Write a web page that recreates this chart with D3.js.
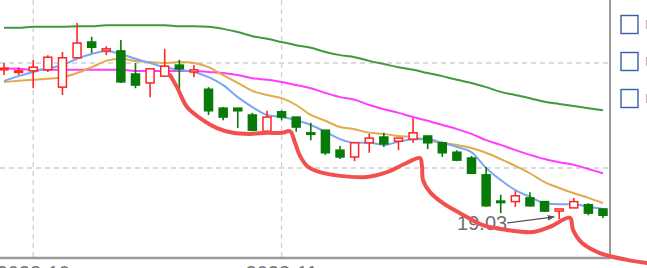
<html>
<head>
<style>
  body { margin: 0; background: #fff; }
  svg { display: block; font-family: "Liberation Sans", Arial, sans-serif; }
</style>
</head>
<body>
<svg id="chart" width="647" height="268"></svg>

<script src="https://cdn.jsdelivr.net/npm/d3@7"></script>
<script>
// daily candles, left to right
let open  = [21.87, 21.83, 21.85, 21.87, 21.54, 22.10, 22.40, 22.23, 22.23, 21.79, 21.62, 21.75, 21.96, 21.83, 21.50, 21.14, 21.14, 21.01, 20.70, 21.07, 20.97, 20.67, 20.72, 20.34, 20.21, 20.48, 20.59, 20.51, 20.55, 20.61, 20.48, 20.30, 20.19, 19.87, 19.37, 19.36, 19.43, 19.36, 19.18, 19.24, 19.30, 19.22]
let high  = [22.00, 21.92, 22.06, 22.15, 22.21, 22.76, 22.50, 22.32, 22.44, 22.00, 21.89, 22.27, 22.06, 21.96, 21.54, 21.16, 21.14, 21.05, 21.09, 21.10, 20.97, 20.86, 20.72, 20.42, 20.48, 20.65, 20.67, 20.57, 20.95, 20.61, 20.50, 20.34, 20.23, 20.02, 19.49, 19.56, 19.54, 19.36, 19.22, 19.43, 19.33, 19.22]
let low   = [21.77, 21.77, 21.52, 21.83, 21.39, 22.10, 22.19, 22.15, 21.62, 21.52, 21.35, 21.75, 21.49, 21.73, 21.01, 20.91, 20.76, 20.70, 20.70, 20.91, 20.69, 20.53, 20.25, 20.17, 20.13, 20.29, 20.40, 20.34, 20.48, 20.36, 20.21, 20.13, 19.90, 19.26, 19.14, 19.26, 19.26, 19.16, 19.03, 19.24, 19.10, 19.05]
let close = [21.90, 21.85, 21.92, 22.11, 22.10, 22.38, 22.30, 22.27, 21.64, 21.58, 21.89, 21.94, 21.89, 21.87, 21.09, 20.97, 21.09, 20.72, 20.97, 20.97, 20.78, 20.65, 20.29, 20.21, 20.48, 20.57, 20.46, 20.57, 20.67, 20.48, 20.29, 20.15, 19.90, 19.28, 19.35, 19.47, 19.28, 19.18, 19.22, 19.36, 19.14, 19.10]

// moving averages as they appear on the chart
let ma5  = [21.66, 21.75, 21.83, 21.90, 21.96, 22.08, 22.17, 22.23, 22.17, 22.08, 22.00, 21.92, 21.87, 21.83, 21.73, 21.58, 21.35, 21.16, 21.01, 20.97, 20.91, 20.82, 20.69, 20.55, 20.48, 20.48, 20.44, 20.50, 20.55, 20.55, 20.48, 20.40, 20.30, 20.00, 19.77, 19.58, 19.45, 19.33, 19.31, 19.31, 19.26, 19.22]
let ma10 = [21.64, 21.66, 21.68, 21.70, 21.73, 21.81, 21.92, 22.04, 22.08, 22.04, 22.02, 22.00, 22.02, 22.00, 21.92, 21.77, 21.62, 21.47, 21.39, 21.33, 21.20, 21.01, 20.90, 20.78, 20.74, 20.67, 20.65, 20.61, 20.59, 20.53, 20.48, 20.44, 20.38, 20.29, 20.17, 20.04, 19.90, 19.73, 19.62, 19.52, 19.43, 19.33]
let ma20 = [21.90, 21.89, 21.87, 21.87, 21.87, 21.87, 21.87, 21.87, 21.87, 21.85, 21.85, 21.85, 21.85, 21.85, 21.83, 21.81, 21.77, 21.71, 21.68, 21.64, 21.58, 21.52, 21.43, 21.35, 21.30, 21.20, 21.12, 21.05, 20.97, 20.90, 20.82, 20.74, 20.65, 20.53, 20.44, 20.34, 20.25, 20.17, 20.11, 20.06, 19.98, 19.90]
let ma60 = [22.67, 22.67, 22.69, 22.69, 22.69, 22.70, 22.70, 22.72, 22.72, 22.72, 22.72, 22.72, 22.70, 22.70, 22.69, 22.65, 22.59, 22.51, 22.46, 22.40, 22.34, 22.29, 22.21, 22.15, 22.11, 22.04, 21.98, 21.92, 21.87, 21.81, 21.75, 21.68, 21.62, 21.54, 21.45, 21.39, 21.33, 21.26, 21.22, 21.18, 21.14, 21.10]

let monthTickIdx = [2, 19]
let monthTickLabels = ["2023-10", "2023-11"]
let priceTicks = [18, 20, 22, 24]
let legendLabels = ["MA5", "MA10", "MA20"]

// hand drawn red stroke, as [candle index, price]
let scribble = [[11.36, 21.77], [11.84, 21.54], [12.53, 21.16], [13.42, 20.95], [14.58, 20.76], [15.67, 20.67], [16.84, 20.65], [18.0, 20.67], [19.03, 20.67], [19.58, 20.70], [19.92, 20.48], [20.26, 20.23], [20.74, 20.04], [21.63, 19.92], [23.0, 19.85], [24.85, 19.83], [26.21, 19.92], [27.58, 20.10], [28.47, 20.19], [28.61, 20.02], [28.68, 19.77], [29.16, 19.54], [30.05, 19.33], [31.21, 19.14], [32.79, 18.91], [34.43, 18.82], [36.21, 18.78], [37.37, 18.88], [38.74, 19.05], [38.95, 18.82], [39.57, 18.57], [40.79, 18.38], [42.64, 18.25], [44.01, 18.19]]

let svg = d3.select("#chart")
let plotRight = 610
let plotBottom = 258

let x = d3.scaleLinear().domain([-0.5, 41.5]).range([-3.3, 610.3])
let y = d3.scaleLinear().domain([20, 22]).range([168, 63])

let candles = open.map((o, i) => ({ i: i, o: o, h: high[i], l: low[i], c: close[i] }))

// grid
let grid = svg.append("g")
grid.selectAll(".hg")
    .data(priceTicks.filter(t => y(t) > 0 && y(t) < plotBottom))
    .enter().append("line")
    .attr("x1", 0).attr("x2", plotRight)
    .attr("y1", d => y(d)).attr("y2", d => y(d))
    .attr("stroke", "#cfcfcf").attr("stroke-width", 1.3)
    .attr("stroke-dasharray", "5,4")
grid.selectAll(".vg")
    .data(monthTickIdx)
    .enter().append("line")
    .attr("x1", d => x(d)).attr("x2", d => x(d))
    .attr("y1", 0).attr("y2", plotBottom)
    .attr("stroke", "#cfcfcf").attr("stroke-width", 1.3)
    .attr("stroke-dasharray", "5,4")

// clip for the plot area
svg.append("clipPath").attr("id", "plot")
    .append("rect").attr("x", 0).attr("y", 0).attr("width", plotRight).attr("height", plotBottom)
let plot = svg.append("g").attr("clip-path", "url(#plot)")

// moving average lines
let maSeries = [
    { values: ma60, color: "#3f9a3f" },
    { values: ma20, color: "#ff3dff" },
    { values: ma10, color: "#e3a94a" },
    { values: ma5,  color: "#7aa6f2" }
]
let line = d3.line()
    .x((d, i) => x(i))
    .y(d => y(d))
    .curve(d3.curveMonotoneX)
plot.selectAll(".ma")
    .data(maSeries)
    .enter().append("path")
    .attr("d", d => line(d.values))
    .attr("fill", "none")
    .attr("stroke", d => d.color)
    .attr("stroke-width", 2)

// candles
let red = "#ff2424"
let green = "#087a08"
let bodyW = 8
let g = plot.selectAll(".candle")
    .data(candles)
    .enter().append("g")
g.append("line")
    .attr("x1", d => x(d.i)).attr("x2", d => x(d.i))
    .attr("y1", d => y(d.h)).attr("y2", d => y(d.l))
    .attr("stroke", d => d.c >= d.o ? red : green)
    .attr("stroke-width", 1.6)
g.append("rect")
    .attr("x", d => x(d.i) - bodyW / 2)
    .attr("width", bodyW)
    .attr("y", d => y(Math.max(d.o, d.c)))
    .attr("height", d => Math.max(1.5, Math.abs(y(d.o) - y(d.c))))
    .attr("fill", d => d.c >= d.o ? "#fff" : green)
    .attr("stroke", d => d.c >= d.o ? red : green)
    .attr("stroke-width", 1.5)

// lowest point marker
let lowIdx = low.indexOf(d3.min(low))
svg.append("defs").append("marker")
    .attr("id", "arrow").attr("viewBox", "0 0 10 10")
    .attr("refX", 9).attr("refY", 5)
    .attr("markerWidth", 6).attr("markerHeight", 6)
    .attr("orient", "auto")
    .append("path").attr("d", "M0,1 L10,5 L0,9 Z").attr("fill", "#555")
svg.append("text")
    .attr("x", x(lowIdx) - 52)
    .attr("y", y(low[lowIdx]) + 11)
    .attr("text-anchor", "end")
    .attr("font-size", 20)
    .attr("fill", "#6e6e6e")
    .text(d3.format(".2f")(low[lowIdx]))
svg.append("line")
    .attr("x1", x(lowIdx) - 52).attr("y1", y(low[lowIdx]) + 4)
    .attr("x2", x(lowIdx) - 5).attr("y2", y(low[lowIdx]) - 2)
    .attr("stroke", "#555").attr("stroke-width", 1.2)
    .attr("marker-end", "url(#arrow)")

// frame: bottom axis and right border
svg.append("line")
    .attr("x1", 0).attr("x2", plotRight + 1)
    .attr("y1", plotBottom).attr("y2", plotBottom)
    .attr("stroke", "#9a9a9a").attr("stroke-width", 2.5)
svg.append("line")
    .attr("x1", plotRight).attr("x2", plotRight)
    .attr("y1", 0).attr("y2", plotBottom)
    .attr("stroke", "#9a9a9a").attr("stroke-width", 2)

// month labels, only their top shows under the axis like the reference
svg.selectAll(".xl")
    .data(monthTickIdx)
    .enter().append("text")
    .attr("x", d => x(d))
    .attr("y", 279.5)
    .attr("text-anchor", "middle")
    .attr("font-size", 20)
    .attr("fill", "#777")
    .text((d, i) => monthTickLabels[i])

// legend checkboxes on the right
let legend = svg.selectAll(".lg")
    .data(legendLabels)
    .enter().append("g")
    .attr("transform", (d, i) => "translate(621," + (15.5 + i * 37) + ")")
legend.append("rect")
    .attr("width", 17).attr("height", 18)
    .attr("fill", "#fff")
    .attr("stroke", "#3461a3").attr("stroke-width", 1.4)
legend.append("text")
    .attr("x", 24).attr("y", 13)
    .attr("font-size", 12)
    .attr("fill", "#aaa")
    .text(d => d)

// red annotation stroke on top
let scribbleLine = d3.line()
    .x(d => x(d[0]))
    .y(d => y(d[1]))
    .curve(d3.curveCatmullRom)
svg.append("path")
    .attr("d", scribbleLine(scribble))
    .attr("fill", "none")
    .attr("stroke", "#f2504e")
    .attr("stroke-width", 4)
    .attr("stroke-linecap", "round")
    .attr("stroke-linejoin", "round")
</script>
</body>
</html>
